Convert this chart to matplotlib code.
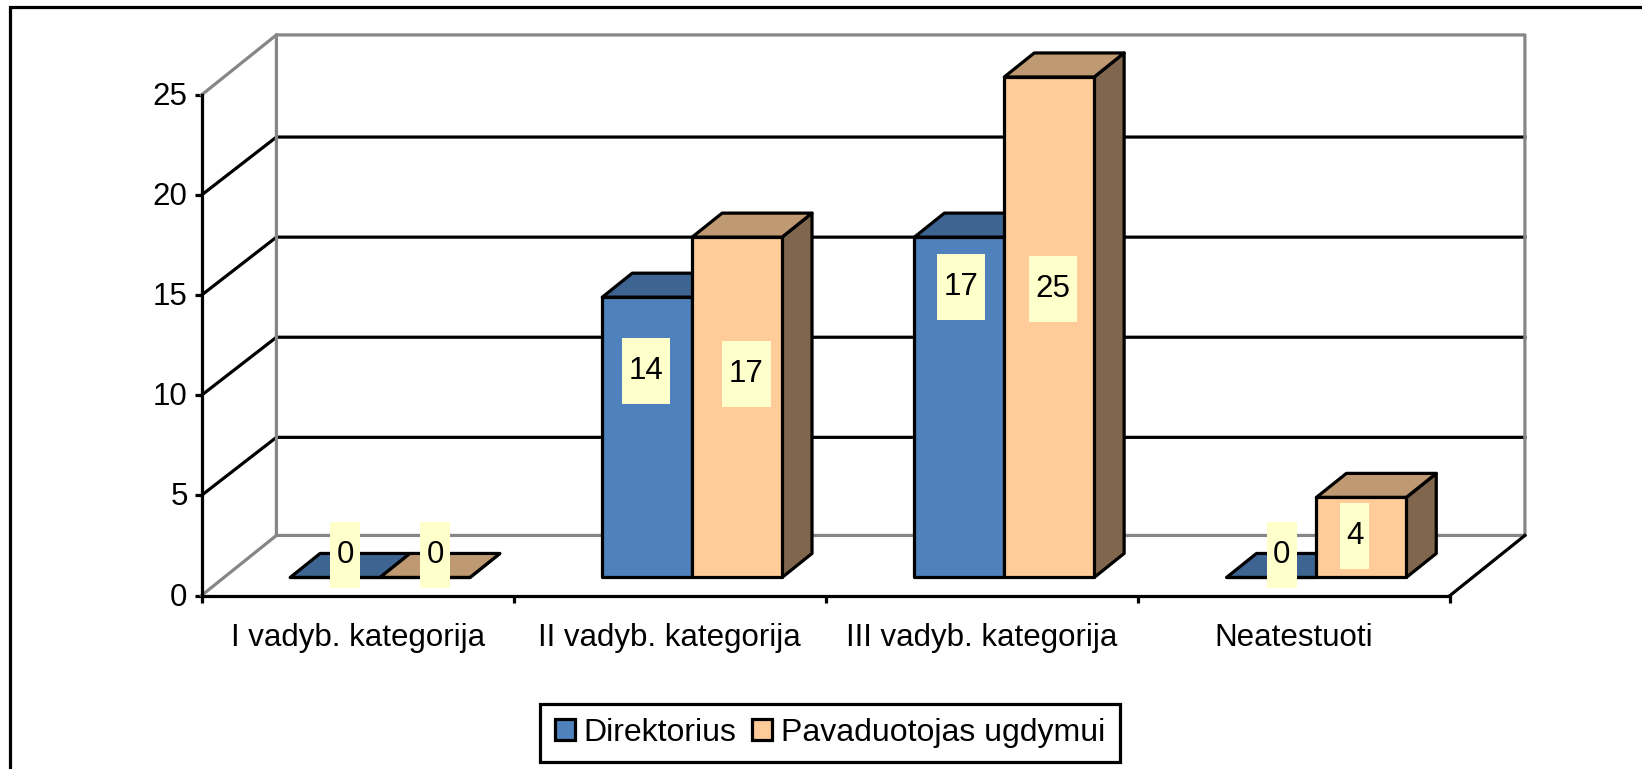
import matplotlib
matplotlib.use("Agg")
import matplotlib.pyplot as plt
from matplotlib.patches import Polygon, Patch, Rectangle
from matplotlib.transforms import ScaledTranslation

plt.rcParams["font.family"] = ["Liberation Sans", "DejaVu Sans"]

# duomenys
categories = ["I vadyb. kategorija", "II vadyb. kategorija", "III vadyb. kategorija", "Neatestuoti"]
direktorius = [0, 14, 17, 0]
pavaduotojas = [0, 17, 25, 4]
y_ticks = [0, 5, 10, 15, 20, 25]

# where the data labels sit (manually placed in the original)
label_dir_x = [0.033, -0.003, 0.006, 0.033]
label_dir_y = [1.1, 10.3, 14.5, 1.1]
label_pav_x = [0.033, 0.03, 0.012, -0.022]
label_pav_y = [1.1, 10.15, 14.4, 2.05]

W, H = 1642, 769
px = 1 / 100
lw = 3.2 * 0.72
font = 22.5

BLUE, BLUE_TOP = "#4F81BD", "#3E6592"
ORANGE, ORANGE_TOP, ORANGE_SIDE = "#FFCC99", "#BF9972", "#7F664C"
GREY = "#868686"
LABEL_BG = "#FFFFCC"

# oblique depth in data units
wall_dx, wall_dy = 0.24, 3.0
grid_dy = 2.9
base_dx, base_dy = 0.072, 0.9
bar_dx, bar_dy = 0.096, 1.2
bar_w = 0.288

fig = plt.figure(figsize=(W * px, H * px), dpi=100)
left, right = 201.5, 1450
top, bottom = 95, 595.5
ax = fig.add_axes([left / W, 1 - bottom / H, (right - left) / W, (bottom - top) / H])
ax.set_xlim(0, 4)
ax.set_ylim(0, 25)
ax.patch.set_visible(False)

for s in ["top", "right"]:
    ax.spines[s].set_visible(False)
for s in ["left", "bottom"]:
    ax.spines[s].set_linewidth(lw)
    ax.spines[s].set_zorder(2.5)

ax.set_yticks(y_ticks)
ax.set_xticks(range(5))
ax.set_xticklabels([])
ax.set_xticks([i + 0.5 for i in range(4)], categories, minor=True)
ax.tick_params(axis="both", which="major", width=lw, length=5, labelsize=font, color="black")
ax.tick_params(axis="y", pad=5)
ax.tick_params(axis="x", which="minor", length=0, labelsize=font, pad=20)
for lbl in ax.get_yticklabels():
    lbl.set_transform(lbl.get_transform() + ScaledTranslation(0, 1.5 * px, fig.dpi_scale_trans))

# walls and floor
for v in y_ticks[1:-1]:
    ax.plot([0, wall_dx, 4 + wall_dx], [v, v + grid_dy, v + grid_dy], color="black", lw=lw, zorder=1, clip_on=False)
ax.plot([0, wall_dx, wall_dx], [0, wall_dy, 25 + wall_dy], color=GREY, lw=lw, zorder=2, clip_on=False)
ax.plot([0, wall_dx, 4 + wall_dx, 4 + wall_dx, wall_dx], [25, 25 + wall_dy, 25 + wall_dy, wall_dy, wall_dy],
        color=GREY, lw=lw, zorder=2, clip_on=False)
ax.plot([4, 4 + wall_dx], [0, wall_dy], color="black", lw=lw, zorder=2, clip_on=False)


def draw_bar(x0, value, front, roof, side, z):
    x1 = x0 + bar_w
    y0 = base_dy
    y1 = base_dy + value
    kw = dict(edgecolor="black", lw=lw, joinstyle="round", zorder=z, clip_on=False)
    ax.add_patch(Polygon([(x1, y0), (x1 + bar_dx, y0 + bar_dy), (x1 + bar_dx, y1 + bar_dy), (x1, y1)], facecolor=side, **kw))
    ax.add_patch(Polygon([(x0, y1), (x0 + bar_dx, y1 + bar_dy), (x1 + bar_dx, y1 + bar_dy), (x1, y1)], facecolor=roof, **kw))
    ax.add_patch(Polygon([(x0, y0), (x1, y0), (x1, y1), (x0, y1)], facecolor=front, **kw))


def draw_label(xc, yc, value):
    w = 0.154 if value >= 10 else 0.096
    h = 3.3
    ax.add_patch(Rectangle((xc - w / 2, yc - h / 2), w, h, facecolor=LABEL_BG, edgecolor="none", zorder=20, clip_on=False))
    ax.text(xc, yc, str(value), ha="center", va="center", fontsize=font, zorder=21, clip_on=False)


for i in range(4):
    mid = i + 0.5 + base_dx
    draw_bar(mid - bar_w, direktorius[i], BLUE, BLUE_TOP, BLUE_TOP, 3 + i * 2)
    draw_bar(mid, pavaduotojas[i], ORANGE, ORANGE_TOP, ORANGE_SIDE, 4 + i * 2)

for i in range(4):
    mid = i + 0.5 + base_dx
    draw_label(mid - bar_w / 2 + label_dir_x[i], label_dir_y[i] + base_dy, direktorius[i])
    draw_label(mid + bar_w / 2 + label_pav_x[i], label_pav_y[i] + base_dy, pavaduotojas[i])

handles = [Patch(facecolor=BLUE, edgecolor="black", lw=lw, label="Direktorius"),
           Patch(facecolor=ORANGE, edgecolor="black", lw=lw, label="Pavaduotojas ugdymui")]
leg = fig.legend(handles=handles, ncol=2, loc="center", bbox_to_anchor=(830 / W, 1 - 733 / H),
                 fontsize=23, frameon=True, fancybox=False, edgecolor="black", framealpha=1,
                 handlelength=0.62, handleheight=0.62, handletextpad=0.28, columnspacing=0.5,
                 borderpad=0.45, borderaxespad=0)
leg.get_frame().set_linewidth(lw)

# outer frame of the picture
fig.add_artist(Rectangle((9.5 / W, -0.02), 1.1, 1 - 7 / H + 0.02, transform=fig.transFigure,
                         facecolor="none", edgecolor="black", lw=lw, zorder=0))

fig.savefig("out.png", dpi=100)
